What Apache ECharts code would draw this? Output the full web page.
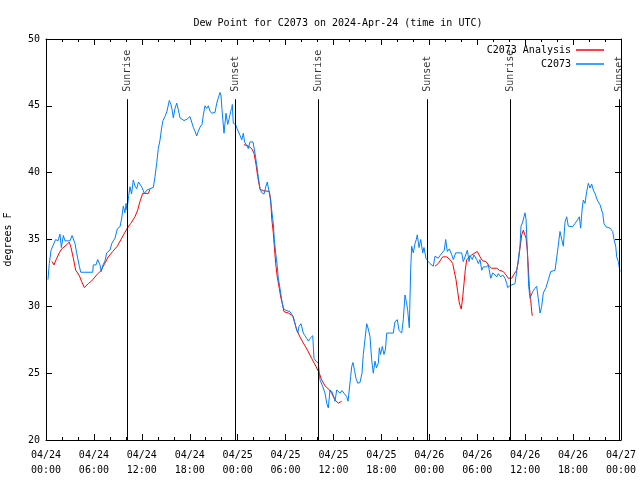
<!DOCTYPE html>
<html><head><meta charset="utf-8">
<script src="https://cdn.jsdelivr.net/npm/echarts@6/dist/echarts.min.js"></script>
<style>html,body{margin:0;padding:0;background:#fff}#c{width:640px;height:480px}</style>
</head><body><div id="c"></div>
<script>
// hours since 2024-04-24 00:00 UTC
const obsHours = [0.25,0.41,0.63,0.84,1.00,1.21,1.50,1.75,1.92,2.17,2.38,3.01,3.26,3.63,3.84,4.17,4.35,5.85,5.92,6.26,6.47,6.76,6.92,7.14,7.39,7.60,8.01,8.23,8.64,8.93,9.27,9.48,9.68,9.89,10.02,10.14,10.36,10.52,10.71,10.93,11.14,11.36,11.58,11.77,12.02,12.31,12.65,13.02,13.44,13.65,13.86,14.06,14.28,14.49,14.65,14.90,15.15,15.44,15.65,15.82,15.94,16.15,16.37,16.57,16.78,17.28,17.66,18.03,18.44,18.66,18.87,19.07,19.28,19.53,19.70,19.91,20.12,20.32,20.54,20.75,20.95,21.16,21.38,21.58,21.79,21.91,22.04,22.29,22.54,22.75,22.92,23.13,23.25,23.33,23.45,23.54,23.75,23.92,24.08,24.29,24.51,24.71,24.86,25.04,25.17,25.33,25.54,25.76,25.92,26.17,26.38,26.58,26.80,27.01,27.30,27.55,27.71,27.84,28.05,28.26,28.46,28.59,28.76,28.96,29.09,29.30,29.51,29.71,30.05,30.55,30.97,31.18,31.31,31.52,31.68,31.93,32.22,32.43,32.64,32.85,33.06,33.40,33.56,33.81,34.10,34.31,34.65,34.94,35.15,35.35,35.56,35.81,36.00,36.19,36.40,36.60,36.81,37.06,37.32,37.65,37.82,37.98,38.15,38.28,38.44,38.63,38.82,39.03,39.32,39.57,39.73,39.94,40.16,40.36,40.57,40.78,40.98,41.20,41.38,41.61,41.74,41.89,42.11,42.32,42.51,42.66,43.49,43.70,43.99,44.20,44.54,44.74,44.95,45.14,45.29,45.49,45.67,45.79,45.99,46.21,46.37,46.49,46.71,46.92,47.17,47.33,47.58,47.87,48.08,48.50,48.71,49.12,49.34,49.87,50.05,50.25,50.50,50.78,51.00,51.30,52.05,52.25,52.47,52.76,52.97,53.09,53.38,53.59,53.93,54.13,54.35,54.56,54.76,55.18,55.38,55.69,55.94,56.22,56.44,56.64,56.94,57.19,57.48,57.69,57.81,58.10,58.73,59.14,59.35,59.48,59.69,59.85,59.98,60.11,60.27,60.44,60.61,60.82,60.94,61.11,61.23,61.44,61.64,61.86,62.07,62.27,62.61,62.90,63.20,63.74,63.95,64.07,64.36,64.58,64.78,64.99,65.20,65.40,65.61,65.95,66.24,66.53,66.78,66.95,67.12,67.28,67.49,67.71,67.91,68.12,68.33,68.53,68.75,69.03,69.37,69.71,69.87,70.12,70.62,70.96,71.13,71.34,71.46,71.66,71.88];
const obsDew = [32.0,33.2,34.2,34.5,34.4,35.0,34.9,35.4,34.4,35.3,34.9,34.9,35.3,34.7,34.0,33.0,32.55,32.55,33.1,33.1,33.5,33.1,32.6,33.1,33.4,34.0,34.2,34.7,35.1,35.8,35.96,36.6,37.5,37.0,37.7,37.2,38.3,38.95,38.4,39.45,39.0,38.8,39.3,39.4,38.9,38.45,38.7,38.8,38.9,39.7,40.7,41.8,42.45,43.4,43.9,44.2,44.6,45.4,45.1,44.6,44.1,44.8,45.2,44.7,44.1,43.9,44.0,44.2,43.4,43.1,42.75,43.1,43.4,43.6,44.3,45.0,44.8,45.0,44.6,44.45,44.5,44.5,45.2,45.6,46.0,45.8,44.7,42.95,44.45,43.6,44.0,44.6,44.8,45.1,43.7,43.7,43.6,43.3,43.2,42.8,42.45,42.95,42.3,42.3,42.0,41.8,42.3,42.3,42.3,41.45,40.6,39.7,38.8,38.5,38.4,39.0,39.3,39.3,38.2,37.2,36.2,35.0,34.0,33.0,32.1,31.35,30.5,29.85,29.7,29.6,29.2,29.2,28.4,28.0,28.5,28.7,28.0,27.8,27.6,27.4,27.6,27.8,26.1,25.9,25.75,24.5,24.0,23.5,22.75,22.4,23.75,23.6,23.3,22.9,23.75,23.75,23.5,23.7,23.5,23.25,22.9,22.8,24.75,25.5,25.8,25.2,24.6,24.25,24.3,25.0,26.4,26.4,28.7,28.3,27.75,26.0,25.0,25.9,25.4,25.75,26.9,26.4,27.0,26.4,26.8,28.0,28.0,28.85,29.0,28.2,28.0,29.0,30.85,30.3,29.7,28.4,32.85,34.5,34.0,34.7,35.0,35.35,34.4,35.0,34.0,34.4,33.6,33.35,33.2,33.0,33.75,33.6,33.8,34.2,35.0,34.1,34.3,33.9,33.5,34.0,34.0,33.35,33.7,34.2,33.35,33.8,33.5,33.85,33.5,33.2,33.5,32.7,32.95,32.95,33.1,32.1,32.5,32.35,32.2,32.45,32.2,32.35,32.1,31.7,31.4,31.55,31.7,33.5,34.5,36.0,36.3,36.7,37.0,36.5,34.2,31.5,30.6,30.5,31.1,31.1,31.35,31.5,30.6,29.5,30.0,31.0,31.4,32.0,32.6,32.7,32.7,34.2,35.6,35.0,34.5,36.3,36.7,36.0,35.95,35.95,36.2,36.45,36.7,35.85,37.2,37.95,37.7,38.6,39.2,38.85,39.15,38.7,38.45,37.95,37.6,36.95,36.2,35.95,35.85,35.6,35.0,34.5,33.7,33.35,32.6];
// analysis (null = gap)
const anaHours = [0.75,1.00,1.34,1.67,1.97,2.38,2.92,3.13,3.42,3.72,4.17,4.47,4.80,5.30,5.72,6.35,6.85,7.26,7.80,8.35,8.93,9.48,10.18,10.61,11.14,11.48,11.77,12.11,12.81,13.02,18.0,24.79,25.29,25.76,26.05,26.30,26.51,26.80,27.21,27.96,28.14,28.26,28.46,28.59,28.76,28.96,29.21,29.39,29.64,29.80,30.34,30.89,31.18,31.39,31.81,32.22,32.72,33.27,33.81,34.22,34.52,34.94,35.48,35.77,36.19,36.60,37.03,42.0,48.71,49.12,49.67,50.17,50.59,50.93,51.13,51.34,51.55,51.75,52.00,52.18,52.34,52.50,52.68,53.31,53.72,54.01,54.35,54.68,55.10,55.51,55.81,56.44,56.76,57.26,57.60,57.89,58.31,58.60,58.94,59.14,59.35,59.57,59.77,59.98,60.11,60.27,60.39,60.52,60.69,60.82,60.89];
const anaDew = [33.35,33.1,33.6,34.0,34.3,34.5,34.8,34.4,33.6,32.7,32.3,31.85,31.4,31.7,31.9,32.35,32.65,33.1,33.7,34.1,34.5,35.1,35.85,36.2,36.7,37.2,37.85,38.45,38.45,38.75,null,42.1,42.0,41.8,41.45,40.6,39.7,38.75,38.65,38.6,37.95,36.6,35.5,34.5,33.2,32.2,31.35,30.7,30.1,29.6,29.5,29.3,28.7,28.25,27.7,27.25,26.75,26.1,25.5,25.0,24.5,24.05,23.75,23.5,23.0,22.75,22.9,null,33.0,33.2,33.7,33.7,33.5,33.2,32.6,32.0,31.1,30.25,29.8,30.7,31.7,32.7,33.5,33.85,34.0,34.1,33.7,33.4,33.35,33.0,32.85,32.85,32.7,32.6,32.35,32.1,32.1,32.4,32.7,33.35,34.35,35.35,35.7,35.6,35.1,34.2,32.95,31.5,30.5,29.6,29.3];
const sunHours = [10.18, 23.70, 34.10, 47.75, 58.14, 71.79];
const sunNames = ['Sunrise','Sunset','Sunrise','Sunset','Sunrise','Sunset'];
const xTickLabels = ['04/24\n00:00','04/24\n06:00','04/24\n12:00','04/24\n18:00','04/25\n00:00','04/25\n06:00','04/25\n12:00','04/25\n18:00','04/26\n00:00','04/26\n06:00','04/26\n12:00','04/26\n18:00','04/27\n00:00'];
const seriesNames = ['C2073 Analysis','C2073'];

const FONT = 'DejaVu Sans Mono';
const zip = (a,b)=>a.map((v,i)=>[v,b[i]]);
const axisBase = {
  axisLine:{show:true,onZero:false,lineStyle:{color:'#000',width:1}},
  axisTick:{show:true,inside:true,length:6,lineStyle:{color:'#000'}},
  splitLine:{show:false}
};
const chart = echarts.init(document.getElementById('c'), null, {renderer:'canvas'});
chart.setOption({
  animation:false,
  backgroundColor:'#fff',
  textStyle:{fontFamily:FONT},
  title:{text:'Dew Point for C2073 on 2024-Apr-24 (time in UTC)',left:333,top:13,textAlign:'center',
    textStyle:{fontFamily:FONT,fontSize:10,fontWeight:'normal',color:'#000'}},
  legend:{data:seriesNames,orient:'vertical',right:31,top:39,align:'right',icon:'rect',itemWidth:28,itemHeight:1.5,itemGap:2,
    textStyle:{fontFamily:FONT,fontSize:10,color:'#000',lineHeight:12}},
  grid:{left:46,right:19,top:39,bottom:40,containLabel:false,outerBoundsMode:'none'},
  xAxis:[
    Object.assign({type:'value',min:0,max:72,interval:6,position:'bottom',
      minorTick:{show:true,splitNumber:3,length:3,lineStyle:{color:'#000'}},
      axisLabel:{fontFamily:FONT,fontSize:10,color:'#000',lineHeight:15,margin:8,
        formatter:v=>xTickLabels[Math.round(v/6)]}},axisBase),
    Object.assign({type:'value',min:0,max:72,interval:6,position:'top',
      minorTick:{show:true,splitNumber:3,length:3,lineStyle:{color:'#000'}},
      axisLabel:{show:false}},axisBase)
  ],
  yAxis:[
    Object.assign({type:'value',min:20,max:50,interval:5,position:'left',name:'degrees F',nameLocation:'middle',nameGap:33,
      nameTextStyle:{fontFamily:FONT,fontSize:10,color:'#000'},
      axisLabel:{fontFamily:FONT,fontSize:10,color:'#000',margin:6}},axisBase),
    Object.assign({type:'value',min:20,max:50,interval:5,position:'right',axisLabel:{show:false}},axisBase)
  ],
  series:[
    {name:seriesNames[0],type:'line',data:zip(anaHours,anaDew),showSymbol:false,connectNulls:false,
      lineStyle:{color:'#ff0000',width:1},itemStyle:{color:'#ff0000'},z:3},
    {name:seriesNames[1],type:'line',data:zip(obsHours,obsDew),showSymbol:false,
      lineStyle:{color:'#0080ff',width:1},itemStyle:{color:'#0080ff'},z:4,
      markLine:{silent:true,symbol:'none',animation:false,
        lineStyle:{color:'#000',width:1,type:'solid'},label:{show:false},
        data:sunHours.map(h=>[{coord:[h,20]},{coord:[h,45.5]}])}},
    {name:'sun',type:'scatter',symbolSize:0,silent:true,z:5,
      data:sunHours.map((h,i)=>({value:[h,46.05],name:sunNames[i]})),
      label:{show:true,formatter:p=>p.name,position:[0,0],rotate:90,align:'left',verticalAlign:'middle',
        fontFamily:FONT,fontSize:10,color:'#000'}}
  ]
});
</script></body></html>
